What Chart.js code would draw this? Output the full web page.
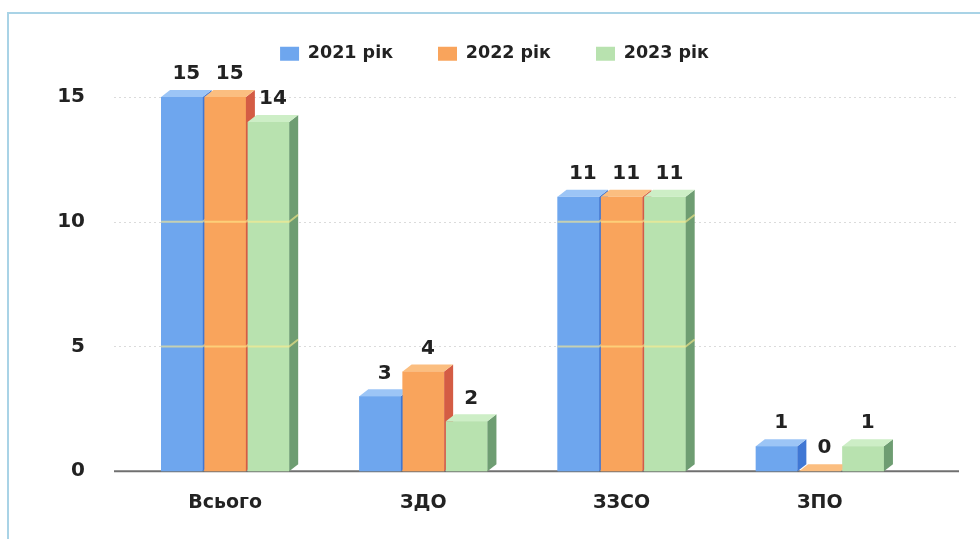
<!DOCTYPE html>
<html><head><meta charset="utf-8">
<script src="https://cdn.jsdelivr.net/npm/chart.js@4.4.1/dist/chart.umd.min.js"></script>
<style>
html,body{margin:0;padding:0;background:#fff;}
#wrap{position:relative;width:980px;height:539px;overflow:hidden;background:#fff;}
#frame{position:absolute;left:7px;top:12px;width:1000px;height:600px;border-left:2px solid #a9d3e6;border-top:2px solid #a9d3e6;}
#cw{position:absolute;left:0;top:0;width:980px;height:539px;}
</style></head><body>
<div id="wrap"><div id="frame"></div><div id="cw"><canvas id="c"></canvas></div></div>
<script>
const categories = ['Всього', 'ЗДО', 'ЗЗСО', 'ЗПО'];
const seriesNames = ['2021 рік', '2022 рік', '2023 рік'];
const values2021 = [15, 3, 11, 1];
const values2022 = [15, 4, 11, 0];
const values2023 = [14, 2, 11, 1];
const yTicks = [0, 5, 10, 15];

const frontColors = ['#6ea6ee', '#f9a45c', '#b8e2af'];
const topColors = ['#9cc5f6', '#fbbe80', '#cdeec6'];
const sideColors = ['#3f77d4', '#d45c44', '#6e9d72'];
const DX = 9, DY = 7;

Chart.defaults.font.family = "'DejaVu Sans', Verdana, sans-serif";

const bar3d = {
  id: 'bar3d',
  beforeLayout(chart) {
    const lg = chart.legend;
    if (lg && !lg._patched) {
      const f = lg.fit;
      lg.fit = function () { f.call(this); this.height = 97; };
      lg._patched = true;
    }
  },
  afterLayout(chart) {
    if (chart.legend) chart.legend.left = 70;
  },
  beforeDatasetsDraw(chart) {
    const ys = chart.scales.y, ctx = chart.ctx, a = chart.chartArea;
    ctx.save();
    ctx.strokeStyle = 'rgba(190,190,190,0.55)';
    ctx.lineWidth = 1;
    ctx.setLineDash([2, 3]);
    yTicks.forEach(v => {
      if (v === 0) return;
      const py = Math.round(ys.getPixelForValue(v)) + 0.5;
      ctx.beginPath(); ctx.moveTo(a.left - 12, py); ctx.lineTo(a.right + 38, py); ctx.stroke();
    });
    ctx.setLineDash([]);
    const p0 = ys.getPixelForValue(0);
    ctx.strokeStyle = '#707070'; ctx.lineWidth = 2;
    ctx.beginPath(); ctx.moveTo(a.left - 12, p0); ctx.lineTo(a.right + 40, p0); ctx.stroke();
    ctx.restore();
  },
  afterDatasetsDraw(chart) {
    const ctx = chart.ctx, ys = chart.scales.y;
    ctx.save();
    chart.data.datasets.forEach((ds, i) => {
      const meta = chart.getDatasetMeta(i);
      meta.data.forEach(bar => {
        bar.draw(ctx);
        const p = bar.getProps(['x', 'y', 'base', 'width'], true);
        const l = p.x - p.width / 2, r = p.x + p.width / 2, y = p.y, b = p.base;
        ctx.fillStyle = sideColors[i];
        ctx.beginPath(); ctx.moveTo(r, y); ctx.lineTo(r + DX, y - DY); ctx.lineTo(r + DX, b - DY); ctx.lineTo(r, b); ctx.closePath(); ctx.fill();
        ctx.fillStyle = topColors[i];
        ctx.beginPath(); ctx.moveTo(l, y); ctx.lineTo(l + DX, y - DY); ctx.lineTo(r + DX, y - DY); ctx.lineTo(r, y); ctx.closePath(); ctx.fill();
        ctx.strokeStyle = 'rgba(255,236,140,0.6)'; ctx.lineWidth = 2;
        yTicks.forEach(v => {
          if (v === 0) return;
          const py = ys.getPixelForValue(v);
          if (py > y + 2 && py < b - 2) {
            ctx.beginPath(); ctx.moveTo(l, py); ctx.lineTo(r, py); ctx.lineTo(r + DX, py - DY); ctx.stroke();
          }
        });
      });
    });
    ctx.font = "bold 20px 'DejaVu Sans'";
    ctx.fillStyle = '#222';
    ctx.textAlign = 'center';
    ctx.textBaseline = 'middle';
    chart.data.datasets.forEach((ds, di) => {
      const meta = chart.getDatasetMeta(di);
      meta.data.forEach((bar, j) => {
        const p = bar.getProps(['x', 'y'], true);
        ctx.fillText(String(ds.data[j]), p.x + DX / 2, p.y - DY - 16);
      });
    });
    ctx.restore();
  }
};

new Chart(document.getElementById('c'), {
  type: 'bar',
  data: {
    labels: categories,
    datasets: [
      { label: seriesNames[0], data: values2021, backgroundColor: frontColors[0], borderWidth: 0 },
      { label: seriesNames[1], data: values2022, backgroundColor: frontColors[1], borderWidth: 0 },
      { label: seriesNames[2], data: values2023, backgroundColor: frontColors[2], borderWidth: 0 }
    ]
  },
  options: {
    responsive: true,
    maintainAspectRatio: false,
    animation: false,
    layout: { padding: { left: 50, right: 61, top: 0, bottom: 5 } },
    datasets: { bar: { categoryPercentage: 0.655, barPercentage: 0.96 } },
    plugins: {
      tooltip: { enabled: false },
      legend: {
        position: 'top',
        labels: {
          boxWidth: 19, boxHeight: 14, padding: 45,
          color: '#222',
          font: { size: 17.5, weight: 'bold' }
        }
      }
    },
    scales: {
      x: {
        grid: { display: false, drawTicks: false }, border: { display: false },
        ticks: { color: '#222', font: { size: 19, weight: 'bold' }, padding: 20 }
      },
      y: {
        min: 0, max: 15,
        grid: { display: false, drawTicks: false }, border: { display: false },
        ticks: { stepSize: 5, color: '#222', font: { size: 20, weight: 'bold' }, padding: 41 },
        afterFit(s) { s.width = 76; }
      }
    }
  },
  plugins: [bar3d]
});
</script>
</body></html>
